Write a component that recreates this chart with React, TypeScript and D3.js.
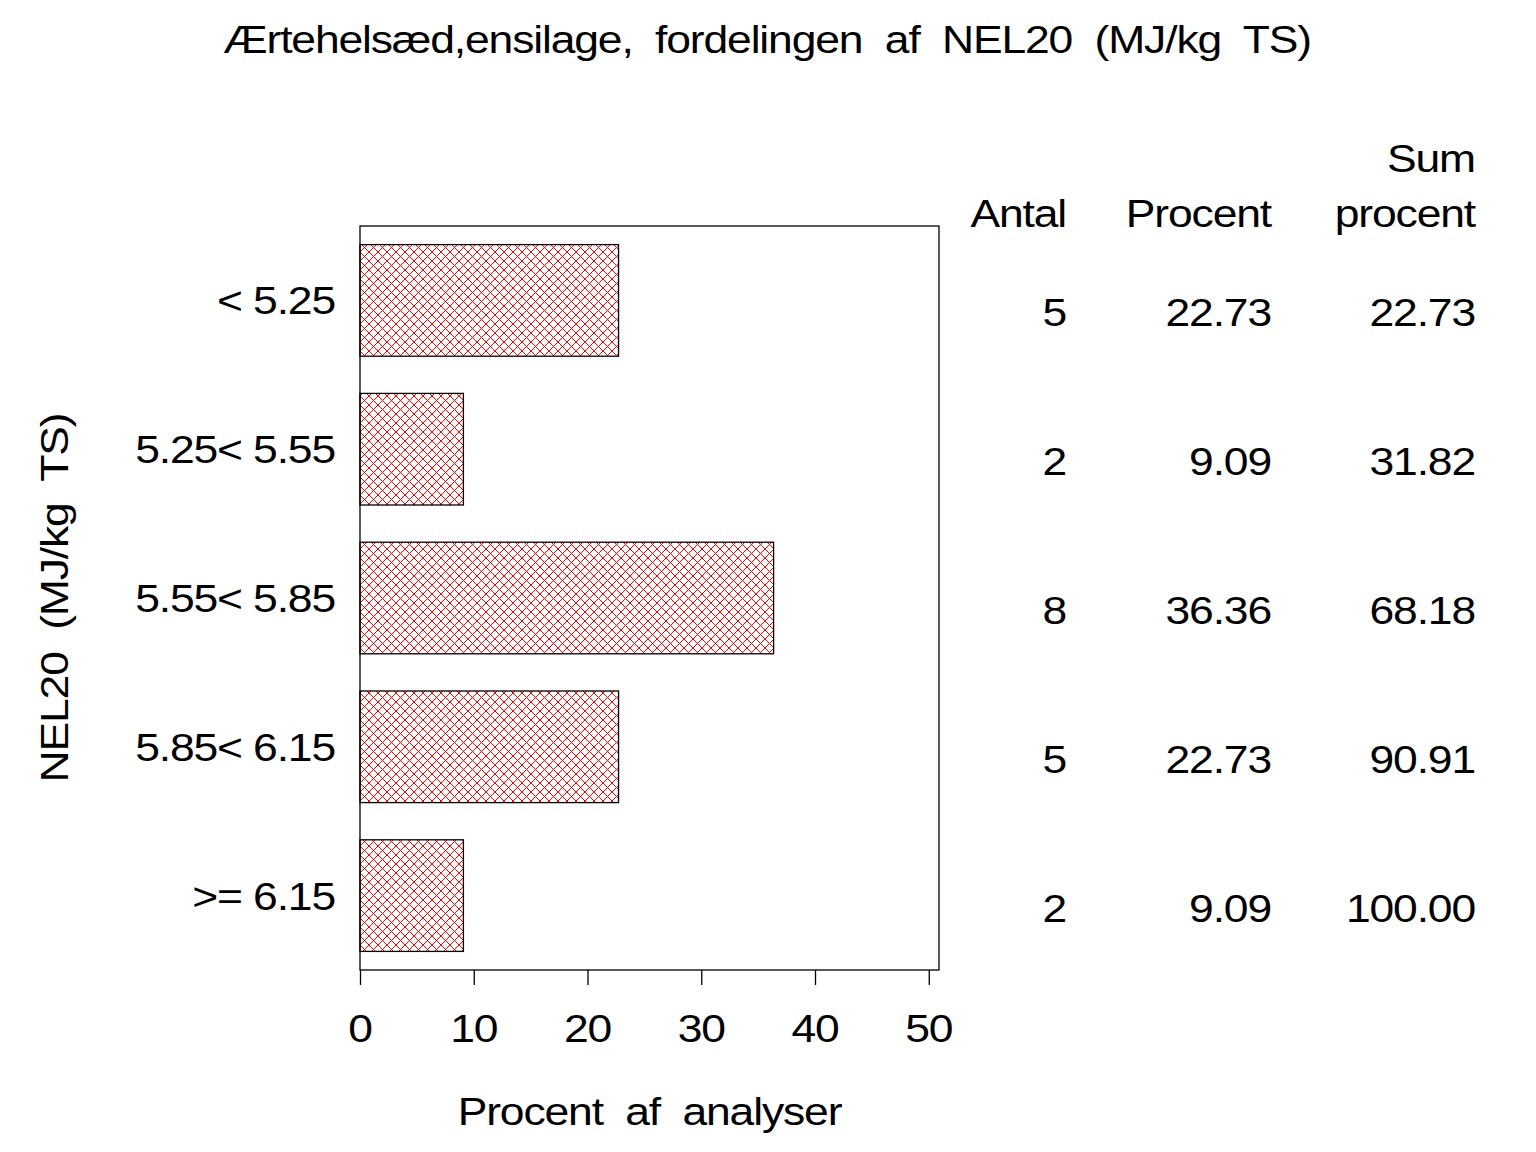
import { useEffect, useRef } from 'react';
import * as d3 from 'd3';

const W = 1536;
const H = 1152;

const categories = ['< 5.25', '5.25< 5.55', '5.55< 5.85', '5.85< 6.15', '>= 6.15'];
const antal = [5, 2, 8, 5, 2];
const procent = [22.73, 9.09, 36.36, 22.73, 9.09];
const sumProcent = [22.73, 31.82, 68.18, 90.91, 100.0];
const xTicks = [0, 10, 20, 30, 40, 50];

const frame = { left: 360, right: 939, top: 226, bottom: 970 };
const font = '"Liberation Sans", Arial, sans-serif';
const fs = 39;
const sx = 1.14; // the original font is wider than Arial

type Sel = d3.Selection<any, unknown, null, undefined>;

// text stretched sideways, placed at (x, y) with its anchor
function label(parent: Sel, x: number, y: number, str: string, anchor = 'start', rot = 0) {
    return parent
        .append('text')
        .attr('transform', `translate(${x},${y})${rot ? ` rotate(${rot})` : ''} scale(${sx},1)`)
        .attr('text-anchor', anchor)
        .attr('font-size', fs)
        .attr('letter-spacing', -1)
        .style('white-space', 'pre')
        .text(str);
}

export default function App() {
    const ref = useRef<SVGSVGElement>(null);

    useEffect(() => {
        const svg = d3.select(ref.current) as unknown as Sel;
        svg.selectAll('*').remove();

        const defs = svg.append('defs');
        const pat = defs
            .append('pattern')
            .attr('id', 'hatch')
            .attr('patternUnits', 'userSpaceOnUse')
            .attr('width', 9)
            .attr('height', 9);
        pat.append('rect').attr('width', 9).attr('height', 9).attr('fill', '#fff');
        pat.append('path')
            .attr('d', 'M0,0L9,9M9,0L0,9M-1,8L1,10M8,-1L10,1')
            .attr('stroke', '#ff0000')
            .attr('stroke-width', 1)
            .attr('fill', 'none');

        const x = d3.scaleLinear().domain([0, 50.9]).range([frame.left, frame.right]);
        const y = d3
            .scaleBand<string>()
            .domain(categories)
            .range([frame.top, frame.bottom])
            .paddingInner(0.25)
            .paddingOuter(0.125);

        // title
        label(svg, 767, 53, 'Ærtehelsæd,ensilage,  fordelingen  af  NEL20  (MJ/kg  TS)', 'middle');

        // bars
        svg.append('g')
            .selectAll('rect')
            .data(categories)
            .join('rect')
            .attr('x', x(0))
            .attr('y', (d) => y(d)!)
            .attr('width', (_d, i) => x(procent[i]) - x(0))
            .attr('height', y.bandwidth())
            .attr('fill', 'url(#hatch)')
            .attr('stroke', '#000')
            .attr('stroke-width', 1.3);

        // frame
        svg.append('rect')
            .attr('x', frame.left)
            .attr('y', frame.top)
            .attr('width', frame.right - frame.left)
            .attr('height', frame.bottom - frame.top)
            .attr('fill', 'none')
            .attr('stroke', '#000')
            .attr('stroke-width', 1.3);

        // x axis (tick marks only, labels drawn stretched below)
        const xAxis = d3.axisBottom(x).tickValues(xTicks).tickSize(15).tickFormat(() => '').tickSizeOuter(0);
        const gx = svg.append('g').attr('transform', `translate(0,${frame.bottom})`).call(xAxis);
        gx.select('.domain').remove();
        gx.selectAll('line').attr('stroke-width', 1.3);
        const tl = svg.append('g');
        xTicks.forEach((t) => label(tl, x(t), 1042, String(t), 'middle'));

        // category labels
        const cg = svg.append('g');
        categories.forEach((c) => label(cg, 335, y(c)! + y.bandwidth() / 2 + 14, c, 'end'));

        // axis titles
        label(svg, (frame.left + frame.right) / 2, 1125, 'Procent  af  analyser', 'middle');
        label(svg, 68, (frame.top + frame.bottom) / 2, 'NEL20  (MJ/kg  TS)', 'middle', -90);

        // table
        const cols = [
            { x: 1066, head: ['', 'Antal'], vals: antal.map((v) => String(v)) },
            { x: 1271, head: ['', 'Procent'], vals: procent.map((v) => v.toFixed(2)) },
            { x: 1475, head: ['Sum', 'procent'], vals: sumProcent.map((v) => v.toFixed(2)) }
        ];
        const tg = svg.append('g');
        cols.forEach((c) => {
            if (c.head[0]) label(tg, c.x, 172, c.head[0], 'end');
            label(tg, c.x, 227, c.head[1], 'end');
            c.vals.forEach((v, i) => label(tg, c.x, y(categories[i])! + y.bandwidth() / 2 + 26, v, 'end'));
        });
    }, []);

    return (
        <svg
            ref={ref}
            width={W}
            height={H}
            style={{ position: 'absolute', left: 0, top: 0, background: '#fff', fontFamily: font }}
        />
    );
}
